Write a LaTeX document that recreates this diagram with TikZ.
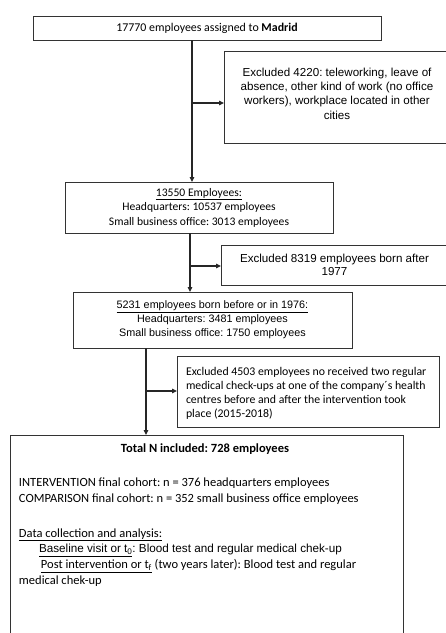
\documentclass[tikz,border=0pt]{standalone}
\usepackage{fontspec}
\setmainfont{Carlito}
\newfontfamily\arialfont{Liberation Sans}
\usetikzlibrary{positioning, arrows.meta, calc}
\frenchspacing
\begin{document}
\begin{tikzpicture}[x=1pt, y=-1pt,
    box/.style={draw=black!80, line width=0.8pt, rectangle, anchor=north west,
      inner sep=0pt, outer sep=0pt},
    flow/.style={draw=black!85, line width=1.1pt},
    arr/.style={flow, -{Triangle[length=5pt, width=4.5pt]}},
  ]
  \useasboundingbox (0,0) rectangle (446,633);
  % main boxes
  \node[box, minimum width=348pt, minimum height=24pt, font=\fontsize{11.9}{14}\selectfont]
    (madrid) at (33,16) {17770 employees assigned to \textbf{Madrid}};
  \node[box, minimum width=268pt, minimum height=51pt, align=center,
    font=\fontsize{11.6}{14.5}\selectfont]
    (emp) at (65,182) {\underline{13550 Employees:}\\Headquarters: 10537 employees\\Small business office: 3013 employees};
  \node[box, minimum width=279pt, minimum height=56pt, align=center,
    font=\arialfont\fontsize{10.8}{14}\selectfont]
    (born) at (73,292) {\underline{5231 employees born before or in 1976:}\\Headquarters: 3481 employees\\Small business office: 1750 employees};
  \node[box] (total) at (10,435) {\parbox[t][205pt][t]{393pt}{%
    \lineskiplimit=-100pt\leftskip=9pt\fontsize{12.5}{15.7}\selectfont
    {\centering\hspace*{-3pt}\rule{0pt}{17.7pt}\textbf{Total N included: 728 employees}\par}
    \vspace{18.3pt}%
    INTERVENTION final cohort: n = 376 headquarters employees\par
    COMPARISON final cohort: n = 352 small business office employees\par
    \vspace{19pt}%
    \underline{Data collection and analysis:}\par
    \hspace*{20pt}{\arialfont\fontsize{11.7}{14}\selectfont\underline{Baseline visit or t\textsubscript{0}}: Blood test and regular medical chek-up}\par
    \hspace*{22pt}\underline{Post intervention or t\textsubscript{f}} (two years later): Blood test and regular\par
    medical chek-up\par}};
  % exclusion boxes
  \node[box] (excl1) at (224,51) {\parbox[t][92pt][t]{226pt}{\centering
    \lineskiplimit=-100pt\arialfont\fontsize{11.6}{14.4}\selectfont
    \rule{0pt}{25pt}Excluded 4220: teleworking, leave of\\absence, other kind of work (no office\\workers), workplace located in other\\cities\par}};
  \node[box, minimum width=227pt, minimum height=40pt, align=center,
    font=\arialfont\fontsize{11.6}{13.5}\selectfont]
    (excl2) at (221,245) {Excluded 8319 employees born after\\1977};
  \node[box] (excl3) at (177,356) {\parbox[t][71pt][t]{262pt}{%
    \raggedright\leftskip=9pt\lineskiplimit=-100pt\fontsize{11.8}{14.3}\selectfont
    \rule{0pt}{19pt}Excluded 4503 employees no received two regular\\medical check-ups at one of the company´s health\\centres before and after the intervention took\\place (2015-2018)\par}};
  % connectors
  \coordinate (j1) at (192,103);
  \coordinate (j2) at (190,266);
  \coordinate (j3) at (146,391);
  \draw[arr] (madrid.south -| j1) -- (emp.north -| j1);
  \draw[arr] (j1) -- (excl1.west |- j1);
  \draw[arr] (emp.south -| j2) -- (born.north -| j2);
  \draw[arr] (j2) -- (excl2.west |- j2);
  \draw[arr] (born.south -| j3) -- (total.north -| j3);
  \draw[arr] (j3) -- (excl3.west |- j3);
\end{tikzpicture}
\end{document}
